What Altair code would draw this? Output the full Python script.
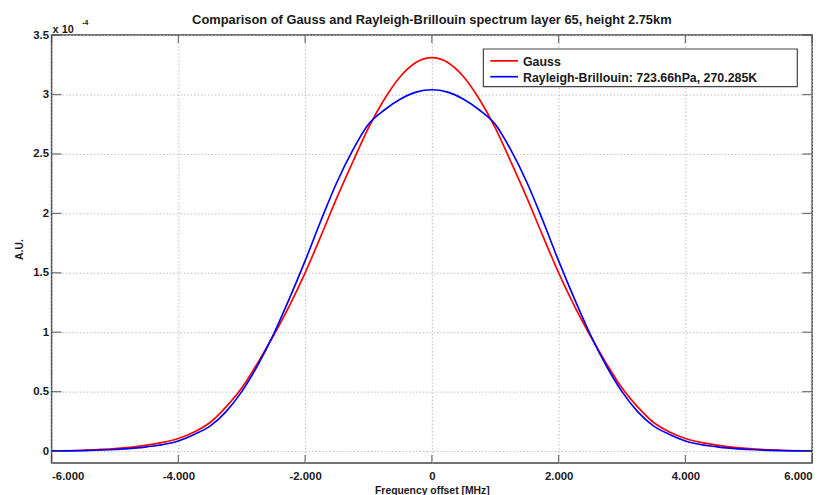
import altair as alt
import pandas as pd

# ---- data (values in units of 1e-4) ----
freq_mhz = [-6000, -5500, -5000, -4500, -4000, -3750, -3500, -3250, -3000, -2750, -2500, -2250,
            -2000, -1750, -1500, -1250, -1000, -750, -500, -250, 0,
            250, 500, 750, 1000, 1250, 1500, 1750, 2000, 2250, 2500, 2750, 3000,
            3250, 3500, 3750, 4000, 4500, 5000, 5500, 6000]
gauss = [0.002, 0.007, 0.02, 0.05, 0.105, 0.16, 0.24, 0.37, 0.53, 0.74, 0.97, 1.22,
         1.50, 1.81, 2.13, 2.43, 2.72, 2.96, 3.15, 3.27, 3.31,
         3.27, 3.15, 2.96, 2.72, 2.43, 2.13, 1.81, 1.50, 1.22, 0.97, 0.74, 0.53,
         0.37, 0.24, 0.16, 0.105, 0.05, 0.02, 0.007, 0.002]
rayleigh_brillouin = [0.001, 0.004, 0.013, 0.035, 0.085, 0.14, 0.21, 0.33, 0.50, 0.72, 0.98, 1.28,
                      1.60, 1.94, 2.26, 2.53, 2.75, 2.87, 2.96, 3.02, 3.04,
                      3.02, 2.96, 2.87, 2.75, 2.53, 2.26, 1.94, 1.60, 1.28, 0.98, 0.72, 0.50,
                      0.33, 0.21, 0.14, 0.085, 0.035, 0.013, 0.004, 0.001]
series_names = ["Gauss", "Rayleigh-Brillouin: 723.66hPa, 270.285K"]
series_colors = ["#ff0000", "#0000ff"]
x_ticks = [-6000, -4000, -2000, 0, 2000, 4000, 6000]
y_ticks = [0, 0.5, 1, 1.5, 2, 2.5, 3, 3.5]
title_text = "Comparison of Gauss and Rayleigh-Brillouin spectrum layer 65, height 2.75km"

FONT = "Liberation Sans"
INK = "#1a1a1a"
FRAME = "#444444"
W, H = 768, 432

n = len(freq_mhz)
df = pd.DataFrame({
    "x": freq_mhz + freq_mhz,
    "y": gauss + rayleigh_brillouin,
    "series": [series_names[0]] * n + [series_names[1]] * n,
})

x_enc = alt.X(
    "x:Q",
    scale=alt.Scale(domain=[-6000, 6000], nice=False, zero=False),
    axis=alt.Axis(
        values=x_ticks,
        labelExpr="(datum.value < 0 ? '-' : '') + replace(format(abs(datum.value), ','), ',', '.')",
        title="Frequency offset [MHz]",
        grid=True, ticks=False, domain=False,
        labelPadding=8, titlePadding=3,
    ),
)
y_enc = alt.Y(
    "y:Q",
    scale=alt.Scale(domain=[-0.1, 3.5], nice=False, zero=False),
    axis=alt.Axis(
        values=y_ticks,
        labelExpr="'' + datum.value",
        title="A.U.",
        grid=True, ticks=False, domain=False,
        labelPadding=3, titlePadding=8,
    ),
)

lines = alt.Chart(df).mark_line(interpolate="monotone", strokeWidth=1.7, clip=True).encode(
    x=x_enc,
    y=y_enc,
    color=alt.Color("series:N", scale=alt.Scale(domain=series_names, range=series_colors), legend=None),
)

xt = pd.DataFrame({"x": x_ticks})
yt = pd.DataFrame({"y": y_ticks})
tick_style = dict(color=FRAME, thickness=1.3)
bottom_ticks = alt.Chart(xt).mark_tick(orient="vertical", size=8, **tick_style).encode(x=x_enc, y=alt.value(H - 4))
top_ticks = alt.Chart(xt).mark_tick(orient="vertical", size=8, **tick_style).encode(x=x_enc, y=alt.value(4))
left_ticks = alt.Chart(yt).mark_tick(orient="horizontal", size=10, **tick_style).encode(y=y_enc, x=alt.value(5))
right_ticks = alt.Chart(yt).mark_tick(orient="horizontal", size=10, **tick_style).encode(y=y_enc, x=alt.value(W - 5))

dummy = alt.Data(values=[{}])
txt = dict(font=FONT, fontWeight="bold", color=INK, baseline="alphabetic")
title_mark = alt.Chart(dummy).mark_text(text=title_text, align="center", fontSize=13, **txt).encode(
    x=alt.value(W / 2), y=alt.value(-11))
exp_base = alt.Chart(dummy).mark_text(text="x 10", align="left", fontSize=11, **txt).encode(
    x=alt.value(1), y=alt.value(-2))
exp_power = alt.Chart(dummy).mark_text(text="-4", align="left", fontSize=7, **txt).encode(
    x=alt.value(31), y=alt.value(-10))

# ---- legend box (drawn as marks) ----
LX0, LX1, LY0, LY1 = 436, 753, 14, 52
legend_layers = [
    alt.Chart(dummy).mark_rect(fill="white", stroke=FRAME, strokeWidth=1.2).encode(
        x=alt.value(LX0), x2=alt.value(LX1), y=alt.value(LY0), y2=alt.value(LY1))
]
for i, (name, col) in enumerate(zip(series_names, series_colors)):
    yy = LY0 + 12 + 16 * i
    legend_layers.append(
        alt.Chart(dummy).mark_rule(color=col, strokeWidth=1.7).encode(
            x=alt.value(LX0 + 7), x2=alt.value(LX0 + 35), y=alt.value(yy)))
    legend_layers.append(
        alt.Chart(dummy).mark_text(text=name, align="left", baseline="middle", font=FONT,
                                   fontWeight="bold", fontSize=12.5, color=INK).encode(
            x=alt.value(LX0 + 40), y=alt.value(yy + 1)))

chart = alt.layer(
    lines, bottom_ticks, top_ticks, left_ticks, right_ticks,
    title_mark, exp_base, exp_power, *legend_layers
).properties(
    width=W,
    height=H,
    autosize=alt.AutoSizeParams(type="none"),
    padding={"left": 44, "top": 25, "right": 16, "bottom": 30},
).configure_view(
    stroke=FRAME, strokeWidth=1.5,
).configure_axis(
    labelFont=FONT, labelFontSize=11.5, labelFontWeight="bold", labelColor=INK,
    titleFont=FONT, titleFontSize=10.5, titleFontWeight="bold", titleColor=INK,
    gridColor="#bdbdbd", gridDash=[1.5, 2], gridWidth=1,
)

chart.save("out.html", embed_options={"renderer": "svg", "actions": False})
